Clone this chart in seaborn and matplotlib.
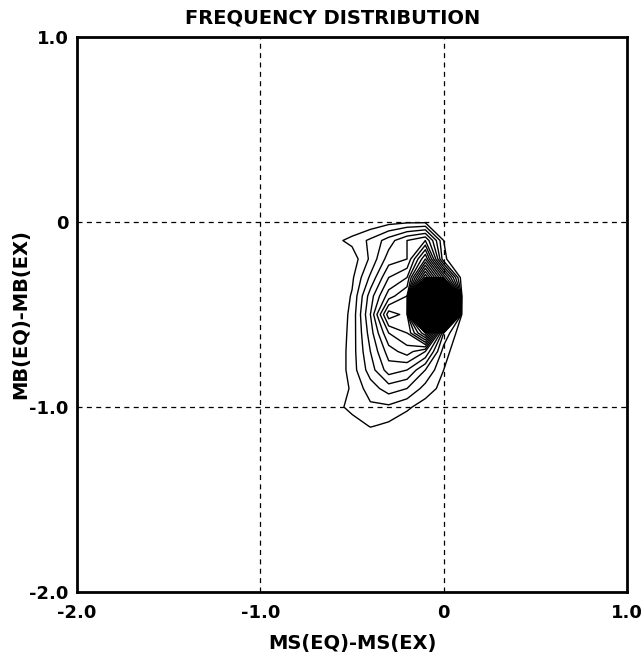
import numpy as np
import matplotlib
matplotlib.use("Agg")
import matplotlib.pyplot as plt
import seaborn as sns

# Bin centres of the frequency table
x_bins = [-0.8, -0.7, -0.6, -0.5, -0.4, -0.3, -0.2, -0.1, 0.0, 0.1, 0.2]
y_bins = [0.1, 0.0, -0.1, -0.2, -0.3, -0.4, -0.5, -0.6, -0.7, -0.8, -0.9, -1.0, -1.1, -1.2, -1.3]

# Event counts per bin (rows follow y_bins, columns follow x_bins)
counts = [
    [0, 0, 0.0, 0.0, 0.0, 0.0, 0.0, 0.0, 0.0, 0.0, 0],
    [0, 0, 0.0, 0.0, 0.2, 0.6, 0.8, 0.8, 0.5, 0.0, 0],
    [0, 0, 0.7, 1.3, 2.2, 3.5, 5.0, 6.0, 1.0, 0.0, 0],
    [0, 0, 0.0, 0.4, 2.2, 4.5, 5.0, 10.0, 1.2, 0.0, 0],
    [0, 0, 0.0, 0.8, 3.2, 6.0, 7.0, 16.0, 8.0, 0.3, 0],
    [0, 0, 0.0, 1.1, 4.5, 7.5, 9.0, 100.0, 60.0, 0.8, 0],
    [0, 0, 0.0, 1.3, 5.0, 10.6, 9.6, 100.0, 45.0, 0.5, 0],
    [0, 0, 0.0, 1.4, 4.5, 8.0, 9.0, 14.0, 3.0, 0.0, 0],
    [0, 0, 0.0, 1.5, 4.0, 6.5, 7.5, 6.0, 1.5, 0.0, 0],
    [0, 0, 0.0, 1.5, 3.5, 5.5, 5.0, 3.0, 1.0, 0.0, 0],
    [0, 0, 0.0, 1.2, 2.5, 3.5, 3.0, 1.6, 0.6, 0.0, 0],
    [0, 0, 0.5, 1.4, 1.8, 1.8, 1.2, 0.5, 0.0, 0.0, 0],
    [0, 0, 0.0, 0.4, 1.1, 0.8, 0.3, 0.0, 0.0, 0.0, 0],
    [0, 0, 0.0, 0.0, 0.0, 0.0, 0.0, 0.0, 0.0, 0.0, 0],
    [0, 0, 0.0, 0.0, 0.0, 0.0, 0.0, 0.0, 0.0, 0.0, 0],
]

contour_levels = list(range(1, 100))
x_ticks = [-2.0, -1.0, 0.0, 1.0]
x_ticklabels = ["-2.0", "-1.0", "0", "1.0"]
y_ticks = [-2.0, -1.0, 0.0, 1.0]
y_ticklabels = ["-2.0", "-1.0", "0", "1.0"]
grid_x = [-1.0, 0.0]
grid_y = [-1.0, 0.0]

sns.set_style("white")
plt.rcParams["font.family"] = ["DejaVu Sans"]

fig = plt.figure(figsize=(6.43, 6.55), dpi=100)
ax = fig.add_axes([0.120, 0.0962, 0.855, 0.8473])

X, Y = np.meshgrid(x_bins, y_bins)
Z = np.array(counts)
ax.contour(X, Y, Z, levels=contour_levels, colors="black", linewidths=1.0)

for gx in grid_x:
    ax.axvline(gx, color="black", lw=0.9, linestyle=(0, (4, 3.5)), zorder=3)
for gy in grid_y:
    ax.axhline(gy, color="black", lw=0.9, linestyle=(0, (4, 3.5)), zorder=3)

ax.set_xlim(-2.0, 1.0)
ax.set_ylim(-2.0, 1.0)
ax.set_xticks(x_ticks)
ax.set_xticklabels(x_ticklabels)
ax.set_yticks(y_ticks)
ax.set_yticklabels(y_ticklabels)
ax.tick_params(length=0, labelsize=13, colors="black")
ax.tick_params(axis="x", pad=9)
ax.tick_params(axis="y", pad=6)
for lab in ax.get_xticklabels() + ax.get_yticklabels():
    lab.set_fontweight("bold")

for spine in ax.spines.values():
    spine.set_visible(True)
    spine.set_color("black")
    spine.set_linewidth(2.0)

ax.set_xlabel("MS(EQ)-MS(EX)", fontsize=14, fontweight="bold", color="black", labelpad=8)
ax.set_ylabel("MB(EQ)-MB(EX)", fontsize=14, fontweight="bold", color="black")
ax.yaxis.set_label_coords(-0.085, 0.5)
fig.text(0.518, 0.9725, "FREQUENCY DISTRIBUTION", ha="center", va="center",
         fontsize=14, fontweight="bold", color="black")

fig.savefig("out.png", dpi=100, facecolor="white")
